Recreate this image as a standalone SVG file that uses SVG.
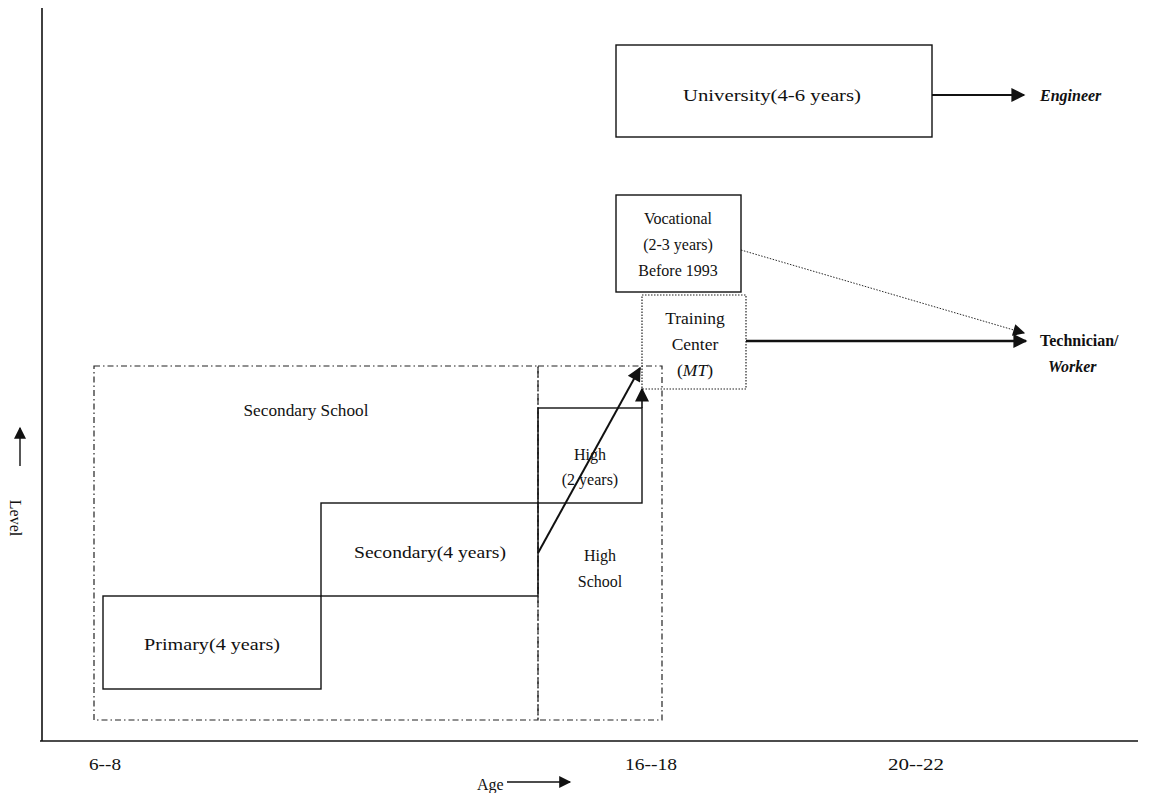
<svg xmlns="http://www.w3.org/2000/svg" width="1149" height="793" viewBox="0 0 1149 793">
  <style>
    text { font-family: "Liberation Serif", "Times New Roman", serif; font-size: 16px; fill: #111; }
    .mid { text-anchor: middle; }
    .big { font-size: 17.5px; }
    .tick { font-size: 17px; }
    .box { fill: none; stroke: #111; stroke-width: 1.4; }
    .dashdot { fill: none; stroke: #222; stroke-width: 1.2; stroke-dasharray: 6 3 1.5 3; }
    .dotted { fill: none; stroke: #222; stroke-width: 1.2; stroke-dasharray: 1.5 1.5; }
    .axis { stroke: #111; stroke-width: 1.6; fill: none; }
    .arrow { stroke: #111; fill: none; }
    .bold { font-weight: bold; }
    .bi { font-weight: bold; font-style: italic; }
  </style>
  <defs>
    <marker id="head" viewBox="0 0 10 10" refX="9" refY="5" markerWidth="18" markerHeight="14" markerUnits="userSpaceOnUse" orient="auto">
      <path d="M0,0 L10,5 L0,10 z" fill="#111"/>
    </marker>
    <marker id="headSmall" viewBox="0 0 10 10" refX="9" refY="5" markerWidth="15" markerHeight="12" markerUnits="userSpaceOnUse" orient="auto">
      <path d="M0,0 L10,5 L0,10 z" fill="#111"/>
    </marker>
  </defs>

  <!-- axes -->
  <g id="axes">
    <line class="axis" x1="42" y1="8" x2="42" y2="741"/>
    <line class="axis" x1="40" y1="741" x2="1138" y2="741"/>
    <text class="tick" x="89" y="770" textLength="32" lengthAdjust="spacingAndGlyphs">6--8</text>
    <text class="tick" x="625" y="770" textLength="52" lengthAdjust="spacingAndGlyphs">16--18</text>
    <text class="tick" x="888" y="770" textLength="56" lengthAdjust="spacingAndGlyphs">20--22</text>
    <text x="477" y="790">Age</text>
    <line class="arrow" x1="507" y1="782" x2="570" y2="782" stroke-width="1.4" marker-end="url(#headSmall)"/>
    <line class="arrow" x1="20" y1="466" x2="20" y2="428" stroke-width="1.4" marker-end="url(#headSmall)"/>
    <text transform="translate(10,518) rotate(90)" class="mid">Level</text>
  </g>

  <!-- grouping frames -->
  <g id="secondary-school">
    <rect class="dashdot" x="94" y="366" width="444" height="354"/>
    <text class="mid big" x="306" y="416" textLength="125" lengthAdjust="spacingAndGlyphs">Secondary School</text>
  </g>
  <g id="high-school">
    <rect class="dashdot" x="538" y="366" width="124" height="354"/>
    <text class="mid" x="600" y="561">High</text>
    <text class="mid" x="600" y="587">School</text>
  </g>

  <!-- stages -->
  <g id="primary">
    <rect class="box" x="103" y="596" width="218" height="93"/>
    <text class="mid big" x="212" y="650" textLength="136" lengthAdjust="spacingAndGlyphs">Primary(4 years)</text>
  </g>
  <g id="secondary">
    <rect class="box" x="321" y="503" width="217" height="93"/>
    <text class="mid big" x="430" y="558" textLength="152" lengthAdjust="spacingAndGlyphs">Secondary(4 years)</text>
  </g>
  <g id="high">
    <rect class="box" x="538" y="408" width="104" height="95"/>
    <text class="mid" x="590" y="460">High</text>
    <text class="mid" x="590" y="485">(2 years)</text>
  </g>
  <g id="training-center">
    <rect class="dotted" x="642" y="295" width="104" height="94"/>
    <text class="mid big" x="695" y="324">Training</text>
    <text class="mid big" x="695" y="350">Center</text>
    <text class="mid big" x="695" y="376">(<tspan font-style="italic">MT</tspan>)</text>
  </g>
  <g id="vocational">
    <rect class="box" x="616" y="195" width="125" height="97"/>
    <text class="mid" x="678" y="224">Vocational</text>
    <text class="mid" x="678" y="250">(2-3 years)</text>
    <text class="mid" x="678" y="276">Before 1993</text>
  </g>
  <g id="university">
    <rect class="box" x="616" y="45" width="316" height="92"/>
    <text class="mid big" x="772" y="101" textLength="178" lengthAdjust="spacingAndGlyphs">University(4-6 years)</text>
  </g>
  <g id="engineer">
    <text class="bi" x="1040" y="101">Engineer</text>
  </g>
  <g id="technician">
    <text class="bold" x="1040" y="346">Technician/</text>
    <text class="bi" x="1048" y="372">Worker</text>
  </g>

  <!-- connectors -->
  <g id="connectors">
    <line class="arrow" x1="538" y1="553" x2="640" y2="368" stroke-width="2" marker-end="url(#head)"/>
    <line class="arrow" x1="642" y1="408" x2="642" y2="389" stroke-width="1.6" marker-end="url(#head)"/>
    <line class="arrow" x1="932" y1="95" x2="1024" y2="95" stroke-width="2" marker-end="url(#head)"/>
    <line class="arrow" x1="746" y1="341" x2="1026" y2="341" stroke-width="2.6" marker-end="url(#head)"/>
    <line class="arrow" x1="741" y1="250" x2="1024" y2="333" stroke-width="0.9" stroke-dasharray="1.5 1.5" marker-end="url(#headSmall)"/>
  </g>
</svg>
